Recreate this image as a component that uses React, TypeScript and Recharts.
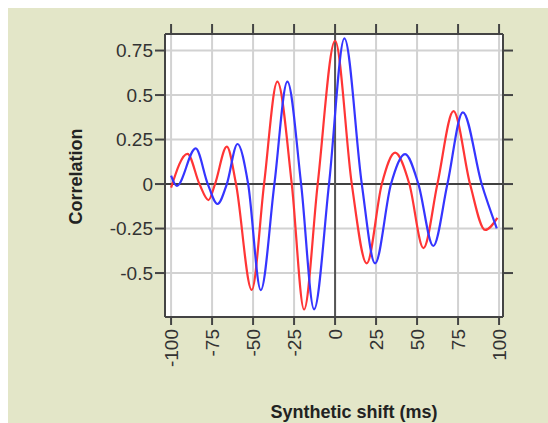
import React from 'react'
import { LineChart, Line, XAxis, YAxis, CartesianGrid, ReferenceLine, Label } from 'recharts'

// red curve: extrema and zero crossings
const redShift = [-100, -90, -82.7, -77.2, -73.2, -66, -60.4, -50.8, -43.3, -35.2, -26.4, -18.9, -10.6, 0, 10.2, 19.3, 28.5, 36.6, 45.3, 53.9, 62.4, 72.2, 82.3, 91.5, 99]
const redCorr = [-0.02, 0.17, 0, -0.09, 0, 0.21, 0, -0.595, 0, 0.575, 0, -0.705, 0, 0.805, 0, -0.446, 0, 0.176, 0, -0.36, 0, 0.41, 0, -0.258, -0.19]

// blue curve
const blueShift = [-100, -96.5, -85, -77.6, -71.7, -66, -59.5, -53, -45.3, -37, -29.1, -20.7, -12.8, -3.7, 5.7, 16.3, 24.4, 34.1, 42.7, 50.8, 59.9, 68.5, 77.9, 89.4, 98.6]
const blueCorr = [0.047, -0.011, 0.2, 0, -0.112, 0, 0.225, 0, -0.596, 0, 0.575, 0, -0.704, 0, 0.818, 0, -0.446, 0, 0.168, 0, -0.348, 0, 0.403, 0, -0.249]

const xTicks = [-100, -75, -50, -25, 0, 25, 50, 75, 100]
const yTicks = [-0.5, -0.25, 0, 0.25, 0.5, 0.75]

const xDomain = [-103.7, 102.4]
const yDomain = [-0.747, 0.843]

const font = '"Liberation Sans", Arial, sans-serif'
const axisColor = '#444'

const redData = redShift.map((x, i) => ({ x, y: redCorr[i] }))
const blueData = blueShift.map((x, i) => ({ x, y: blueCorr[i] }))

const fmtY = (v: number) => String(v)

function BottomTick(props: any) {
  const { x, y, payload } = props
  return (
    <text
      transform={`translate(${x},${y}) rotate(-90)`}
      textAnchor="end"
      dominantBaseline="central"
      fontSize={19}
      fontFamily={font}
      fill="#333"
    >
      {payload.value}
    </text>
  )
}

export default function App() {
  return (
    <div style={{ position: 'absolute', left: 8, top: 8, width: 540, height: 415, background: '#e3e6c8' }}>
      <LineChart width={540} height={415} data={redData} margin={{ top: 16, right: 35, bottom: 46, left: 97 }}>
        <CartesianGrid stroke="#d2d2d2" strokeWidth={2} fill="#fff" fillOpacity={1} />
        <XAxis
          dataKey="x"
          type="number"
          domain={xDomain}
          ticks={xTicks}
          allowDataOverflow
          height={60}
          stroke={axisColor}
          strokeWidth={2}
          tickSize={8}
          tickMargin={4}
          tick={<BottomTick />}
        >
          <Label
            content={(p: any) => {
              const vb = p.viewBox
              return (
                <text x={vb.x + vb.width / 2 + 20} y={vb.y + 95} textAnchor="middle" dominantBaseline="central" fontSize={18} fontWeight="bold" fontFamily={font} fill="#222">
                  Synthetic shift (ms)
                </text>
              )
            }}
          />
        </XAxis>
        <XAxis
          xAxisId="top"
          orientation="top"
          dataKey="x"
          type="number"
          domain={xDomain}
          ticks={xTicks}
          allowDataOverflow
          height={10}
          stroke={axisColor}
          strokeWidth={2}
          tickSize={10}
          tickFormatter={() => ''}
        />
        <YAxis
          type="number"
          domain={yDomain}
          ticks={yTicks}
          allowDataOverflow
          width={60}
          stroke={axisColor}
          strokeWidth={2}
          tickSize={10}
          tickMargin={2}
          tickFormatter={fmtY}
          tick={{ fontSize: 19, fontFamily: font, fill: '#333' }}
        >
          <Label
            content={(p: any) => {
              const vb = p.viewBox
              const cx = vb.x - 29
              const cy = vb.y + vb.height / 2 + 1
              return (
                <text transform={`translate(${cx},${cy}) rotate(-90)`} textAnchor="middle" dominantBaseline="central" fontSize={18} fontWeight="bold" fontFamily={font} fill="#222">
                  Correlation
                </text>
              )
            }}
          />
        </YAxis>
        <YAxis
          yAxisId="right"
          orientation="right"
          type="number"
          domain={yDomain}
          ticks={yTicks}
          allowDataOverflow
          width={10}
          stroke={axisColor}
          strokeWidth={2}
          tickSize={10}
          tickFormatter={() => ''}
        />
        <ReferenceLine y={0} stroke="#111" strokeWidth={1.5} />
        <ReferenceLine x={0} stroke="#555" strokeWidth={2} />
        <Line data={redData} dataKey="y" type="monotone" stroke="#ff3535" strokeWidth={2.2} dot={false} isAnimationActive={false} />
        <Line data={blueData} dataKey="y" type="monotone" stroke="#3535ff" strokeWidth={2.2} dot={false} isAnimationActive={false} />
      </LineChart>
    </div>
  )
}
